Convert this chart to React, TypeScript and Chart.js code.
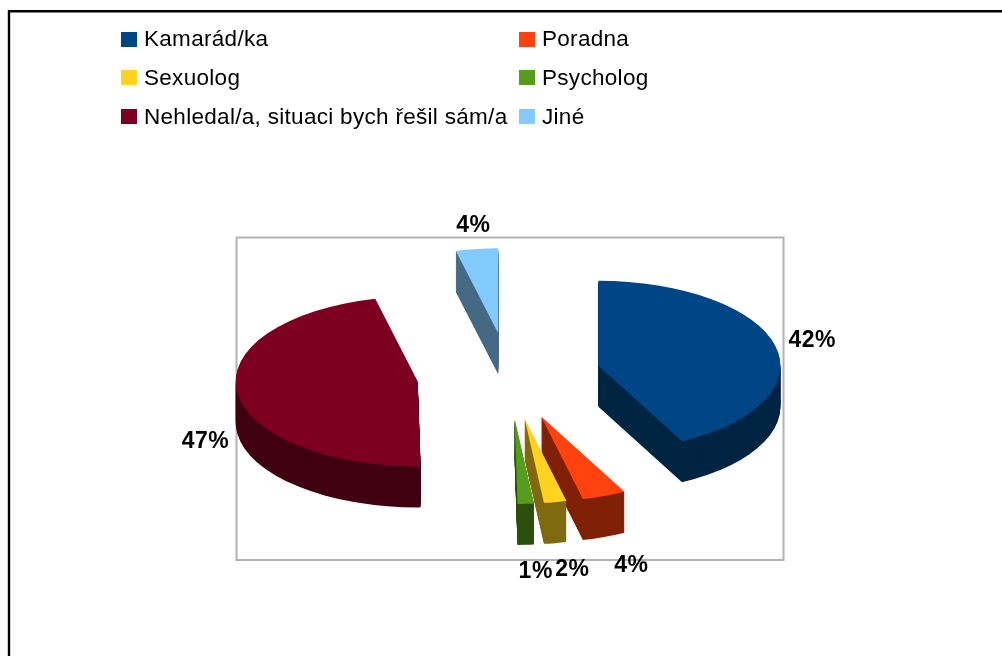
import React, { useEffect, useRef } from "react";
import { Chart, registerables } from "chart.js";

Chart.register(...registerables);

const categories = ["Kamarád/ka", "Poradna", "Sexuolog", "Psycholog", "Nehledal/a, situaci bych řešil sám/a", "Jiné"];
const shares = [42.4, 3.9, 2.0, 1.45, 46.5, 3.75];
const faceColors = ["#004586", "#ff420e", "#ffd320", "#579d1c", "#7e0021", "#83caff"];
const wallColors = ["#002543", "#802107", "#806a10", "#2c4f0e", "#400011", "#466a85"];
const labelDistances = [220, 240, 242, 230, 215, 212];
const labelNudgeX = [0, 7, 7, 7, 1, 0];
const labelNudgeY = [1, 1, -3, 3, 5, -7];

const TILT = 85 / 182;
const DEPTH = 41;
const EXPLODE = 92;

const pie3d = {
  id: "pie3d",
  beforeDatasetsDraw(chart: any) {
    const { ctx } = chart;
    const arcs = chart.getDatasetMeta(0).data;
    ctx.save();
    ctx.strokeStyle = "#000000";
    ctx.lineWidth = 2.4;
    ctx.beginPath();
    ctx.moveTo(9, 670);
    ctx.lineTo(9, 11.2);
    ctx.lineTo(1010, 11.2);
    ctx.stroke();
    ctx.strokeStyle = "#b3b3b3";
    ctx.lineWidth = 2;
    ctx.strokeRect(236.5, 237.5, 547, 322.5);
    ctx.restore();

    arcs.forEach((arc: any, i: number) => {
      const mid = (arc.startAngle + arc.endAngle) / 2;
      const dx = Math.cos(mid) * EXPLODE;
      const dy = Math.sin(mid) * EXPLODE;
      const paint = (shift: number) => {
        ctx.save();
        ctx.translate(arc.x, arc.y + shift);
        ctx.scale(1, TILT);
        ctx.translate(dx - arc.x, dy - arc.y);
        arc.draw(ctx);
        ctx.restore();
      };
      const saved = arc.options;
      arc.options = { ...saved, backgroundColor: wallColors[i] };
      for (let s = DEPTH; s >= 1; s--) paint(s);
      arc.options = saved;
      paint(0);
    });
    return false;
  },
  afterDraw(chart: any) {
    const { ctx } = chart;
    const arcs = chart.getDatasetMeta(0).data;
    ctx.save();
    ctx.fillStyle = "#000000";
    ctx.textAlign = "center";
    ctx.textBaseline = "middle";
    ctx.font = "bold 23px 'Liberation Sans'";
    ctx.letterSpacing = "0.5px";
    arcs.forEach((arc: any, i: number) => {
      const mid = (arc.startAngle + arc.endAngle) / 2;
      const sin = Math.sin(mid);
      const cos = Math.cos(mid);
      const r = EXPLODE + labelDistances[i];
      const x = arc.x + cos * r + labelNudgeX[i];
      const y = arc.y + sin * r * TILT + (sin > 0 ? DEPTH + 2 : -2) + labelNudgeY[i];
      ctx.fillText(`${Math.round(shares[i])}%`, x, y);
    });

    ctx.textAlign = "left";
    ctx.textBaseline = "alphabetic";
    ctx.font = "22.5px 'Liberation Sans'";
    ctx.letterSpacing = "0.3px";
    const colX = [121, 519];
    const rowY = [32, 70, 109];
    const baseY = [45.5, 85, 124];
    categories.forEach((label, i) => {
      const x = colX[i % 2];
      const row = Math.floor(i / 2);
      ctx.fillStyle = faceColors[i];
      ctx.fillRect(x, rowY[row], 16, 15);
      ctx.fillStyle = "#000000";
      ctx.fillText(label, x + 23, baseY[row]);
    });
    ctx.restore();
  },
};

export default function App() {
  const ref = useRef<HTMLCanvasElement>(null);
  useEffect(() => {
    document.body.style.margin = "0";
    document.body.style.background = "#ffffff";
    const chart = new Chart(ref.current!, {
      type: "pie",
      data: {
        labels: categories,
        datasets: [{ data: shares, backgroundColor: faceColors, borderWidth: 0 }],
      },
      options: {
        responsive: false,
        animation: false,
        layout: { padding: { left: 327, right: 311, top: 194, bottom: 98 } },
        plugins: { legend: { display: false }, tooltip: { enabled: false } },
      },
      plugins: [pie3d],
    } as any);
    return () => chart.destroy();
  }, []);
  return (
    <canvas
      ref={ref}
      width={1002}
      height={656}
      style={{ position: "fixed", left: 0, top: 0, width: 1002, height: 656 }}
    />
  );
}
